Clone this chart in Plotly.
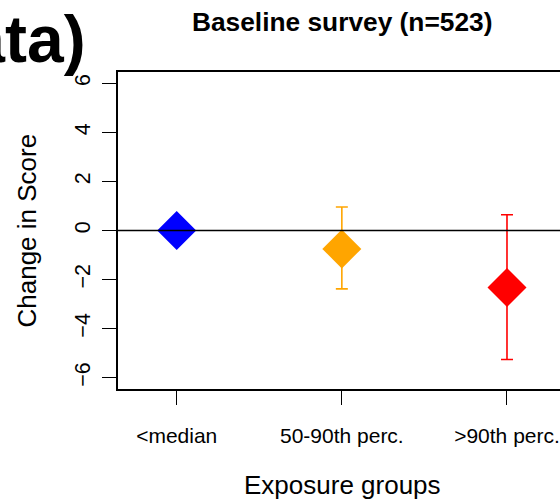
import plotly.graph_objects as go

# Exposure groups and estimated change in score with 95% limits
groups = ["<median", "50-90th perc.", ">90th perc."]
estimate = [0.0, -0.75, -2.32]
upper = [0.0, 0.96, 0.64]
lower = [0.0, -2.38, -5.26]
colors = ["#0000FF", "#FFA500", "#FF0000"]
y_ticks = [-6, -4, -2, 0, 2, 4, 6]

FONT = "Liberation Sans, Arial, sans-serif"

fig = go.Figure()
for i, (g, est, hi, lo, col) in enumerate(zip(groups, estimate, upper, lower, colors)):
    has_ci = hi != lo
    fig.add_trace(go.Scatter(
        x=[i + 1], y=[est], mode="markers", name=g,
        marker=dict(symbol="diamond", size=30, color=col, line=dict(width=0)),
        error_y=dict(type="data", symmetric=False,
                     array=[hi - est], arrayminus=[est - lo],
                     color=col, thickness=1.6, width=6, visible=has_ci),
        showlegend=False,
    ))

# reference line at zero, drawn over the markers
fig.add_shape(type="line", xref="paper", yref="y", x0=0, x1=1, y0=0, y1=0,
              line=dict(color="black", width=1.5), layer="above")

fig.update_layout(
    width=560, height=500,
    margin=dict(l=118, r=0, t=72, b=111),
    paper_bgcolor="white", plot_bgcolor="white",
    font=dict(family=FONT, color="black"),
    xaxis=dict(range=[0.6446, 3.321], tickvals=[1, 2, 3], ticktext=groups,
               showgrid=False, zeroline=False,
               showline=True, linecolor="black", linewidth=2, mirror=True,
               ticks="outside", ticklen=14, tickwidth=1.3, tickcolor="black",
               tickfont=dict(size=21, family=FONT), ticklabelstandoff=13,
               ticklabeloverflow="allow"),
    yaxis=dict(range=[-6.46, 6.46], tickvals=y_ticks,
               showgrid=False, zeroline=False,
               showline=True, linecolor="black", linewidth=2,
               ticks="outside", ticklen=14, tickwidth=1.3, tickcolor="black",
               tickangle=-90, tickfont=dict(size=21.5, family=FONT),
               ticklabelstandoff=3),
    annotations=[
        dict(text="<b>Baseline survey (n=523)</b>", xref="paper", yref="paper",
             x=(342 - 118) / 442, y=1, yshift=50, xanchor="center", yanchor="middle",
             showarrow=False, font=dict(size=26.3, family=FONT)),
        dict(text="Exposure groups", xref="paper", yref="paper",
             x=(342 - 118) / 442, y=0, yshift=-96, xanchor="center", yanchor="middle",
             showarrow=False, font=dict(size=26, family=FONT)),
        dict(text="Change in Score", xref="paper", yref="paper",
             x=0, y=0.5, xshift=-92, xanchor="center", yanchor="middle", textangle=-90,
             showarrow=False, font=dict(size=26, family=FONT)),
        dict(text="<b>data)</b>", xref="paper", yref="paper",
             x=0, y=1, xshift=-30, yshift=33, xanchor="right", yanchor="middle",
             showarrow=False, font=dict(size=66, family=FONT)),
    ],
)

fig.write_html("out.html")
